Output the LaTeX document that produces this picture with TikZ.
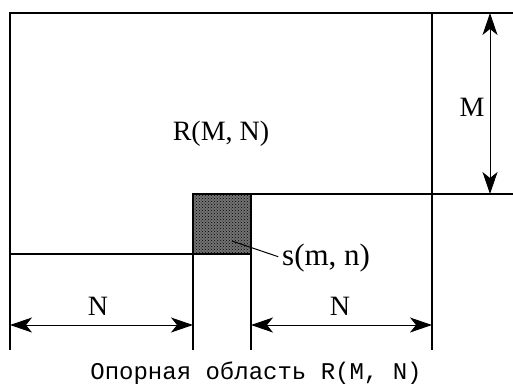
\documentclass[tikz,border=0pt]{standalone}
\usepackage{fontspec}
\setmainfont{Liberation Serif}
\newfontfamily\capfont{Liberation Mono}
\usetikzlibrary{arrows.meta,patterns}

\begin{document}
\begin{tikzpicture}[
  x=1pt, y=-1pt,
  frame/.style={line width=1.2pt},
  dim/.style={{Stealth[length=22pt,width=15pt,inset=6pt]}-{Stealth[length=22pt,width=15pt,inset=6pt]}, line width=1pt},
  lbl/.style={font=\fontsize{28}{32}\selectfont, inner sep=0pt},
  caption/.style={font=\capfont\fontsize{24}{28}\selectfont, inner sep=0pt}
]
  \useasboundingbox (0,0) rectangle (513,383);
  % Shaded element
  \fill[black!55] (193,194) rectangle (251,254);
  \fill[pattern=crosshatch dots, pattern color=black] (193,194) rectangle (251,254);
  % Frame lines
  \draw[frame] (10,350) -- (10,13) -- (513,13);
  \draw[frame] (432,13) -- (432,350);
  \draw[frame] (193,350) -- (193,194) -- (513,194);
  \draw[frame] (251,350) -- (251,194);
  \draw[frame] (10,254) -- (251,254);
  % Dimension ends
  \coordinate (m-top) at (490,13);
  \coordinate (m-bot) at (490,194);
  \coordinate (nl-a) at (10,325);
  \coordinate (nl-b) at (193,325);
  \coordinate (nr-a) at (251,325);
  \coordinate (nr-b) at (432,325);
  \coordinate (s-pt) at (232,241);
  % Dimensions
  \draw[dim] (m-top) -- (m-bot);
  \draw[dim] (nl-a) -- (nl-b);
  \draw[dim] (nr-a) -- (nr-b);
  % Labels
  \node[lbl] (region) at (221,134) {R(M, N)};
  \node[lbl] (m-lbl) at (472,107) {M};
  \node[lbl] (nl-lbl) at (98,306) {N};
  \node[lbl] (nr-lbl) at (340,306) {N};
  \node[lbl, font=\fontsize{31}{35}\selectfont, anchor=west] (s-lbl) at (282,258) {s(m, n)};
  \draw[line width=1pt, shorten >=4pt] (s-pt) -- (s-lbl.west);
  \node[caption, anchor=base] (cap) at (256,379) {Опорная область R(M, N)};
\end{tikzpicture}
\end{document}
